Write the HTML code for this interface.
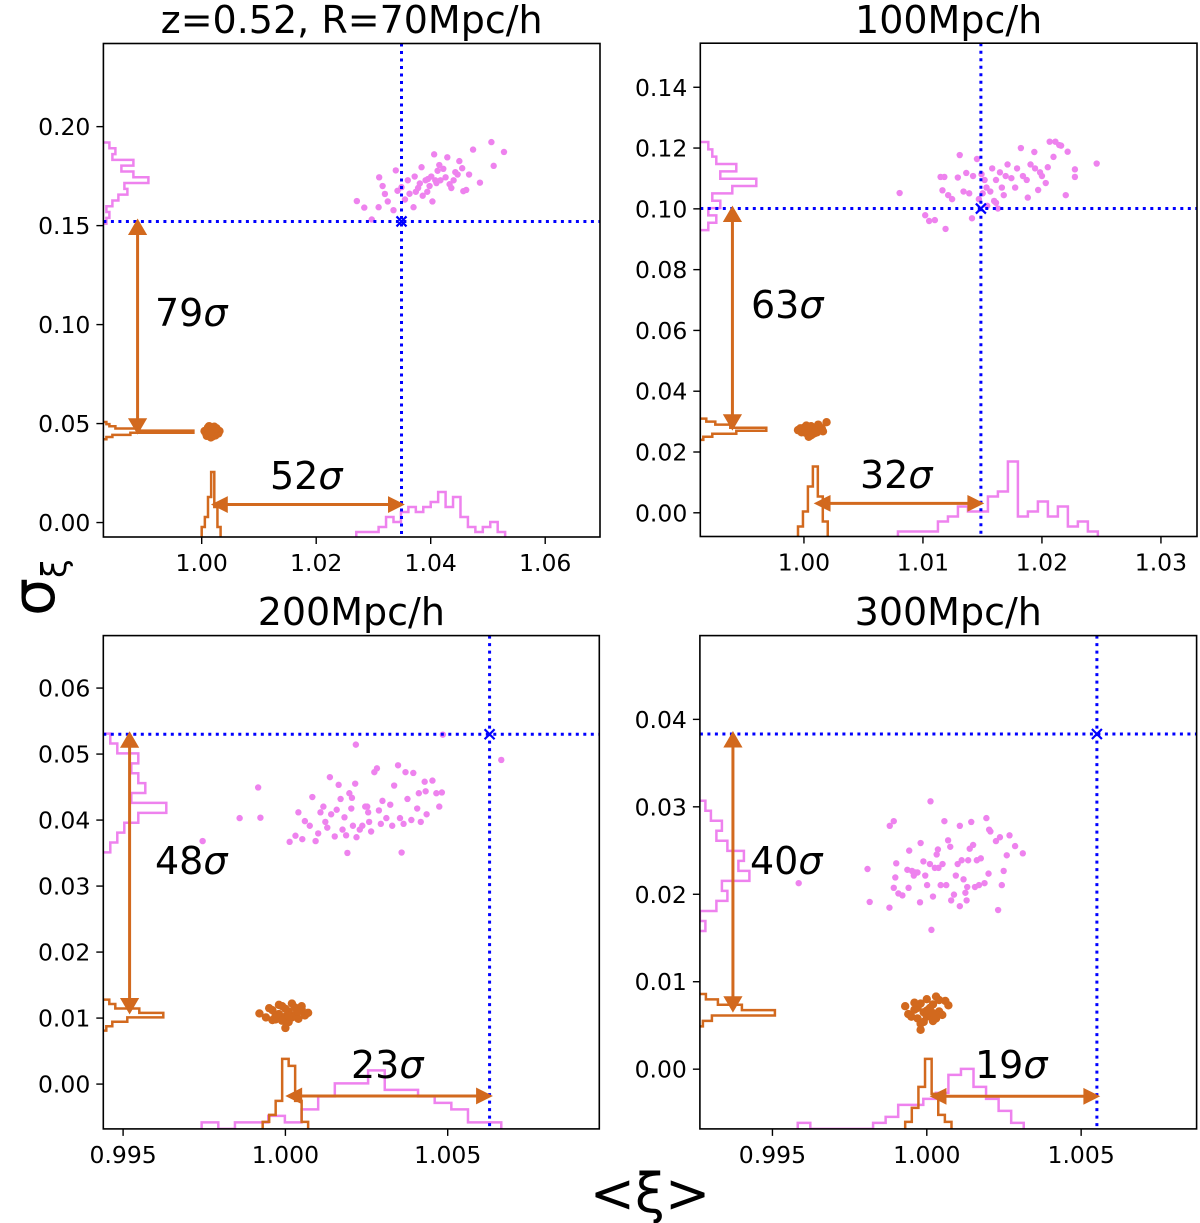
<!DOCTYPE html>
<html><head><meta charset="utf-8"><style>
html,body{margin:0;padding:0;background:#fff;}
svg{display:block;font-family:"DejaVu Sans","Liberation Sans",sans-serif;}
</style></head><body>
<svg id="fig" width="1200" height="1223" viewBox="0 0 1200 1223" xmlns="http://www.w3.org/2000/svg">
<text x="650" y="1212" font-size="54" text-anchor="middle">&lt;ξ&gt;</text>
<text transform="translate(54,616) rotate(-90)" font-size="60">σ<tspan font-size="34" dy="12">ξ</tspan></text>
</svg>
<script>
// ---------- data ----------
const p1PinkXi=[1.0271,1.0284,1.0297,1.0309,1.0310,1.0316,1.0325,1.0335,1.0339,1.0342,1.0349,1.0355,1.0360,1.0370,1.0372,1.0381,1.0384,1.0386,1.0394,1.0401,1.0403,1.0406,1.0412,1.0417,1.0422,1.0429,1.0433,1.0440,1.0447,1.0450,1.0457,1.0462,1.0467,1.0474,1.0486,1.0506,1.0510,1.0528,1.0391,1.0398,1.0426,1.0374,1.0363,1.0408,1.0415,1.0436,1.0320,1.0378,1.0395,1.0410,1.0443,1.0455];
const p1PinkSig=[0.1624,0.1591,0.1531,0.1593,0.1744,0.1700,0.1622,0.1578,0.1779,0.1676,0.1694,0.1632,0.1729,0.1593,0.1748,0.1713,0.1795,0.1651,0.1671,0.1748,0.1622,0.1860,0.1777,0.1729,0.1787,0.1845,0.1709,0.1729,0.1758,0.1826,0.1674,0.1680,0.1758,0.1884,0.1717,0.1922,0.1802,0.1872,0.1729,0.1700,0.1744,0.1671,0.1661,0.1729,0.1806,0.1690,0.1660,0.1690,0.1735,0.1715,0.1770,0.1790];
const p1OrXi=[1.0005,1.0008,1.0010,1.0012,1.0014,1.0015,1.0017,1.0018,1.0020,1.0021,1.0023,1.0025,1.0027,1.0029,1.0031,1.0016,1.0013,1.0009,1.0011,1.0019,1.0022,1.0024,1.0026,1.0018,1.0015];
const p1OrSig=[0.0462,0.0448,0.0470,0.0455,0.0440,0.0465,0.0478,0.0452,0.0460,0.0445,0.0472,0.0456,0.0466,0.0450,0.0462,0.0430,0.0487,0.0438,0.0480,0.0435,0.0484,0.0440,0.0476,0.0468,0.0452];
const p1PinkSigRange=[0.151,0.192];
const p1PinkSigCounts=[1,2,1,3,5,8,7,15,10,6,10,3,4,2];
const p1OrSigRange=[0.0421,0.0508];
const p1OrSigCounts=[1,3,9,30,12,4,2,1];
const p1PinkXiRange=[1.027,1.053];
const p1PinkXiCounts=[1,1,1,2,4,3,5,6,5,6,7,9,6,8,4,2,1,2,3,1];
const p1OrXiRange=[1.0000,1.0033];
const p1OrXiCounts=[2,4,8,13,6,2];
const p1Target=[1.0349,0.1521];
const p1Arrows=[0.9888,0.0459,0.0091,1.0022];

const p2PinkXi=[1.00804,1.01019,1.01052,1.01100,1.01148,1.01180,1.01190,1.01164,1.01212,1.01245,1.01293,1.01309,1.01341,1.01364,1.01389,1.01412,1.01421,1.01454,1.01470,1.01492,1.01502,1.01518,1.01534,1.01540,1.01566,1.01582,1.01598,1.01614,1.01630,1.01647,1.01663,1.01679,1.01695,1.01711,1.01743,1.01775,1.01791,1.01823,1.01840,1.01872,1.01881,1.01904,1.01936,1.01942,1.01968,1.01984,1.02000,1.02032,1.02049,1.02065,1.02097,1.02113,1.02145,1.02161,1.02200,1.02216,1.02277,1.02277,1.02460,1.01614];
const p2PinkSig=[0.1052,0.0979,0.0960,0.0963,0.1105,0.1105,0.0934,0.1061,0.1045,0.1032,0.1103,0.1177,0.1057,0.1118,0.1051,0.0969,0.1108,0.1164,0.1032,0.1114,0.1051,0.1095,0.1070,0.1010,0.1057,0.1133,0.1026,0.1095,0.1001,0.1120,0.1070,0.1045,0.1108,0.1146,0.1101,0.1070,0.1133,0.1200,0.1108,0.1095,0.1037,0.1146,0.1187,0.1133,0.1062,0.1120,0.1108,0.1085,0.1137,0.1221,0.1171,0.1221,0.1210,0.1208,0.1045,0.1188,0.1130,0.1105,0.1149,0.1020];
const p2OrXi=[0.9995,0.9998,1.0000,1.0002,1.0003,1.0005,1.0006,1.0007,1.0008,1.0010,1.0011,1.0012,1.0014,1.0016,1.0019,1.0004,0.9997,1.0001,1.0004,1.0009,1.0013,1.0006,1.0002,1.0010,1.0015];
const p2OrSig=[0.0272,0.0265,0.0280,0.0262,0.0275,0.0268,0.0285,0.0258,0.0272,0.0280,0.0265,0.0290,0.0275,0.0268,0.0298,0.0250,0.0278,0.0270,0.0282,0.0262,0.0283,0.0255,0.0287,0.0270,0.0278];
const p2PinkSigRange=[0.093,0.122];
const p2PinkSigCounts=[2,4,2,5,3,8,14,5,9,4,3,2];
const p2OrSigRange=[0.0240,0.0310];
const p2OrSigCounts=[1,4,12,22,10,5,2];
const p2PinkXiRange=[1.0079,1.0247];
const p2PinkXiCounts=[1,1,1,1,3,4,6,5,5,8,9,15,4,5,7,4,6,2,3,1];
const p2OrXiRange=[0.9995,1.0020];
const p2OrXiCounts=[2,5,10,14,8,3];
const p2Target=[1.01487,0.1001];
const p2Arrows=[0.99399,0.0280,0.0031,1.0011];

const p3PinkXi=[0.99745,0.99859,0.99916,0.99923,1.00013,1.00031,1.00040,1.00052,1.00060,1.00075,1.00083,1.00093,1.00101,1.00108,1.00117,1.00123,1.00129,1.00137,1.00141,1.00152,1.00158,1.00164,1.00170,1.00176,1.00182,1.00187,1.00191,1.00197,1.00203,1.00208,1.00215,1.00219,1.00229,1.00237,1.00246,1.00255,1.00258,1.00264,1.00274,1.00282,1.00288,1.00294,1.00299,1.00311,1.00323,1.00329,1.00335,1.00347,1.00353,1.00358,1.00364,1.00370,1.00376,1.00388,1.00394,1.00406,1.00411,1.00417,1.00429,1.00432,1.00435,1.00453,1.00465,1.00474,1.00482,1.00217,1.00485,1.00665,1.00252,1.00205];
const p3PinkSig=[0.03682,0.04030,0.04494,0.04036,0.03670,0.03763,0.04117,0.03711,0.03984,0.03914,0.04349,0.03682,0.03798,0.04117,0.04204,0.03972,0.03885,0.04650,0.04088,0.03752,0.04157,0.04534,0.04320,0.03856,0.04042,0.03769,0.03502,0.04407,0.04175,0.03914,0.04552,0.03740,0.03856,0.03914,0.04204,0.04117,0.03972,0.03827,0.04726,0.04784,0.04146,0.03943,0.04291,0.04030,0.04233,0.03914,0.04523,0.04830,0.04030,0.03508,0.03943,0.04726,0.04320,0.04001,0.04714,0.04175,0.04407,0.03972,0.04581,0.04436,0.04088,0.04598,0.04407,0.04204,0.04418,0.05143,0.05294,0.04911,0.04204,0.04337];
const p3OrXi=[0.9992,0.9994,0.9996,0.9997,0.9998,0.9999,1.0000,1.0001,1.0001,1.0002,1.0003,1.0004,1.0005,1.0006,1.0007,1.0000,0.9995,0.9997,0.9999,1.0000,1.0002,1.0003,1.0004,0.9998,1.0001,0.9996,1.0005];
const p3OrSig=[0.0107,0.0101,0.0112,0.0098,0.0106,0.0118,0.0102,0.0110,0.0094,0.0122,0.0105,0.0099,0.0113,0.0104,0.0108,0.0085,0.0115,0.0104,0.0096,0.0114,0.0101,0.0116,0.0110,0.0120,0.0103,0.0097,0.0118];
const p3PinkSigRange=[0.0351,0.0531];
const p3PinkSigCounts=[1,2,3,5,9,4,6,5,4,5,2,1];
const p3OrSigRange=[0.0081,0.0128];
const p3OrSigCounts=[1,3,8,20,12,4,2];
const p3PinkXiRange=[0.99742,1.00665];
const p3PinkXiCounts=[1,0,1,1,2,1,3,5,7,7,9,6,6,5,4,3,1,1];
const p3OrXiRange=[0.9993,1.0007];
const p3OrXiCounts=[1,2,4,10,9,4,1];
const p3Target=[1.00629,0.0530];
const p3Arrows=[0.99520,0.0110,-0.0018,1.0001];

const p4PinkXi=[0.99585,0.99808,0.99815,0.99879,0.99880,0.99893,0.99893,0.99898,0.99901,0.99908,0.99921,0.99937,0.99941,0.99943,0.99952,0.99958,0.99964,0.99970,0.99978,0.99980,0.99989,0.99995,1.00001,1.00010,1.00015,1.00020,1.00026,1.00032,1.00036,1.00038,1.00045,1.00051,1.00057,1.00063,1.00069,1.00076,1.00079,1.00088,1.00094,1.00100,1.00107,1.00113,1.00119,1.00125,1.00129,1.00134,1.00139,1.00144,1.00150,1.00156,1.00162,1.00169,1.00175,1.00187,1.00193,1.00200,1.00202,1.00206,1.00224,1.00231,1.00237,1.00243,1.00249,1.00259,1.00268,1.00286,1.00311,1.00012,1.00107,1.00131];
const p4PinkSig=[0.02127,0.02289,0.01912,0.01847,0.02783,0.02836,0.02074,0.02192,0.02354,0.02009,0.01987,0.02280,0.02074,0.02499,0.02267,0.02214,0.02249,0.02249,0.01908,0.02586,0.02376,0.02214,0.02105,0.02346,0.01593,0.01974,0.02302,0.02455,0.02512,0.02302,0.02105,0.02346,0.02836,0.02105,0.02617,0.02543,0.01930,0.01996,0.02214,0.02346,0.02783,0.02389,0.02171,0.02017,0.01930,0.02389,0.02521,0.02827,0.02564,0.02083,0.02389,0.02105,0.02411,0.02127,0.02871,0.02236,0.02739,0.02718,0.02608,0.01820,0.02652,0.02105,0.02267,0.02446,0.02674,0.02551,0.02468,0.03063,0.01864,0.02083];
const p4OrXi=[0.9993,0.9994,0.9996,0.9997,0.9998,0.9999,1.0000,1.0000,1.0001,1.0002,1.0003,1.0004,1.0005,1.0006,1.0007,0.9998,0.9995,0.9997,0.9999,1.0001,1.0002,1.0003,1.0004,0.9996,1.0000,1.0002,0.9998];
const p4OrSig=[0.0072,0.0063,0.0068,0.0058,0.0075,0.0065,0.0080,0.0060,0.0070,0.0055,0.0083,0.0066,0.0062,0.0078,0.0073,0.0045,0.0060,0.0070,0.0054,0.0062,0.0074,0.0058,0.0079,0.0076,0.0067,0.0064,0.0052];
const p4PinkSigRange=[0.0158,0.0307];
const p4PinkSigCounts=[1,0,3,5,4,9,7,8,5,3,4,2,1];
const p4OrSigRange=[0.0049,0.0086];
const p4OrSigCounts=[1,4,25,14,6,2];
const p4PinkXiRange=[0.99582,1.00314];
const p4PinkXiCounts=[1,0,0,0,0,0,1,2,4,4,5,6,9,10,7,5,3,1];
const p4OrXiRange=[0.9993,1.0008];
const p4OrXiCounts=[1,3,6,10,5,2,1];
const p4Target=[1.00551,0.03833];
const p4Arrows=[0.99372,0.0068,-0.0031,1.0002];

const p1XTicks=["1.00","1.02","1.04","1.06"], p1YTicks=["0.00","0.05","0.10","0.15","0.20"];
const p2XTicks=["1.00","1.01","1.02","1.03"], p2YTicks=["0.00","0.02","0.04","0.06","0.08","0.10","0.12","0.14"];
const p3XTicks=["0.995","1.000","1.005"], p3YTicks=["0.00","0.01","0.02","0.03","0.04","0.05","0.06"];
const p4XTicks=["0.995","1.000","1.005"], p4YTicks=["0.00","0.01","0.02","0.03","0.04"];
const titles=["z=0.52, R=70Mpc/h","100Mpc/h","200Mpc/h","300Mpc/h"];
const sigLabels=[["79σ","52σ"],["63σ","32σ"],["48σ","23σ"],["40σ","19σ"]];

// ---------- layout (styles) ----------
const layout=[
 {l:103.4,r:600,t:43.5,b:537,x0:0.98283,x1:1.06957,y0:-0.0073,y1:0.242,ty:33,l1:[155,326],l2:[270,489],sc:{ps:3,os:3,px:5,ox:5}},
 {l:700.3,r:1197,t:43.2,b:536.5,x0:0.99129,x1:1.03303,y0:-0.0078,y1:0.1545,ty:33,l1:[751,318],l2:[860,488],sc:{ps:4,os:3,px:5,ox:5}},
 {l:103.3,r:599.3,t:635.6,b:1128.9,x0:0.99439,x1:1.00967,y0:-0.00679,y1:0.06795,ty:625,l1:[155,874],l2:[351,1078],sc:{ps:7,os:3,px:6.5,ox:7}},
 {l:699.9,r:1196.6,t:635.6,b:1128.9,x0:0.99265,x1:1.00874,y0:-0.00683,y1:0.04958,ty:625,l1:[750,874],l2:[975,1078],sc:{ps:5.5,os:3,px:6,ox:7}}
];
const PINK="#ee82ee", OR="#d2691e", BLUE="#0000ff";
const NS="http://www.w3.org/2000/svg";
const svg=document.getElementById("fig");
function el(tag,parent){const e=document.createElementNS(NS,tag);parent.appendChild(e);return e;}

const dataSets=[
 {pxi:p1PinkXi,psg:p1PinkSig,oxi:p1OrXi,osg:p1OrSig,psr:p1PinkSigRange,psc:p1PinkSigCounts,osr:p1OrSigRange,osc:p1OrSigCounts,pxr:p1PinkXiRange,pxc:p1PinkXiCounts,oxr:p1OrXiRange,oxc:p1OrXiCounts,tg:p1Target,ar:p1Arrows,xt:p1XTicks,yt:p1YTicks},
 {pxi:p2PinkXi,psg:p2PinkSig,oxi:p2OrXi,osg:p2OrSig,psr:p2PinkSigRange,psc:p2PinkSigCounts,osr:p2OrSigRange,osc:p2OrSigCounts,pxr:p2PinkXiRange,pxc:p2PinkXiCounts,oxr:p2OrXiRange,oxc:p2OrXiCounts,tg:p2Target,ar:p2Arrows,xt:p2XTicks,yt:p2YTicks},
 {pxi:p3PinkXi,psg:p3PinkSig,oxi:p3OrXi,osg:p3OrSig,psr:p3PinkSigRange,psc:p3PinkSigCounts,osr:p3OrSigRange,osc:p3OrSigCounts,pxr:p3PinkXiRange,pxc:p3PinkXiCounts,oxr:p3OrXiRange,oxc:p3OrXiCounts,tg:p3Target,ar:p3Arrows,xt:p3XTicks,yt:p3YTicks},
 {pxi:p4PinkXi,psg:p4PinkSig,oxi:p4OrXi,osg:p4OrSig,psr:p4PinkSigRange,psc:p4PinkSigCounts,osr:p4OrSigRange,osc:p4OrSigCounts,pxr:p4PinkXiRange,pxc:p4PinkXiCounts,oxr:p4OrXiRange,oxc:p4OrXiCounts,tg:p4Target,ar:p4Arrows,xt:p4XTicks,yt:p4YTicks}
];

dataSets.forEach((d,i)=>{
 const L=layout[i];
 const X=v=>L.l+(v-L.x0)/(L.x1-L.x0)*(L.r-L.l);
 const Y=v=>L.b-(v-L.y0)/(L.y1-L.y0)*(L.b-L.t);
 const g=el("g",svg);
 
 
 const cp=el("clipPath",g); cp.setAttribute("id","clip"+i);
 const cr=el("rect",cp); cr.setAttribute("x",L.l);cr.setAttribute("y",L.t);cr.setAttribute("width",L.r-L.l);cr.setAttribute("height",L.b-L.t);
 const inner=el("g",g); inner.setAttribute("clip-path","url(#clip"+i+")");
 
 

 function vhist(range,counts,scale,color,name){
  const n=counts.length, w=(range[1]-range[0])/n; let p="M"+L.l+","+Y(range[0]);
  counts.forEach((c,k)=>{const xx=L.l+c*scale;p+=" L"+xx+","+Y(range[0]+k*w)+" L"+xx+","+Y(range[0]+(k+1)*w);});
  p+=" L"+L.l+","+Y(range[1]);
  const e=el("path",inner);e.setAttribute("d",p);e.setAttribute("fill","none");e.setAttribute("stroke",color);e.setAttribute("stroke-width","2.5");
  
  
 }
 function hhist(range,counts,scale,color,name){
  const n=counts.length, w=(range[1]-range[0])/n; let p="M"+X(range[0])+","+L.b;
  counts.forEach((c,k)=>{const yy=L.b-c*scale;p+=" L"+X(range[0]+k*w)+","+yy+" L"+X(range[0]+(k+1)*w)+","+yy;});
  p+=" L"+X(range[1])+","+L.b;
  const e=el("path",inner);e.setAttribute("d",p);e.setAttribute("fill","none");e.setAttribute("stroke",color);e.setAttribute("stroke-width","2.5");
  
  
 }
 vhist(d.psr,d.psc,L.sc.ps,PINK,"pink-sigma-histogram");
 hhist(d.pxr,d.pxc,L.sc.px,PINK,"pink-mean-histogram");
 vhist(d.osr,d.osc,L.sc.os,OR,"orange-sigma-histogram");
 hhist(d.oxr,d.oxc,L.sc.ox,OR,"orange-mean-histogram");

 d.pxi.forEach((v,k)=>{const c=el("circle",inner);c.setAttribute("cx",X(v));c.setAttribute("cy",Y(d.psg[k]));c.setAttribute("r","3.2");c.setAttribute("fill",PINK);
  
  });
 d.oxi.forEach((v,k)=>{const c=el("circle",inner);c.setAttribute("cx",X(v));c.setAttribute("cy",Y(d.osg[k]));c.setAttribute("r","4.2");c.setAttribute("fill",OR);
  
  });

 const tx=X(d.tg[0]), ty=Y(d.tg[1]);
 const vl=el("line",inner);vl.setAttribute("x1",tx);vl.setAttribute("x2",tx);vl.setAttribute("y1",L.t);vl.setAttribute("y2",L.b);
 vl.setAttribute("stroke",BLUE);vl.setAttribute("stroke-width","3");vl.setAttribute("stroke-dasharray","3 4.5");
 
 
 const hl=el("line",inner);hl.setAttribute("x1",L.l);hl.setAttribute("x2",L.r);hl.setAttribute("y1",ty);hl.setAttribute("y2",ty);
 hl.setAttribute("stroke",BLUE);hl.setAttribute("stroke-width","3");hl.setAttribute("stroke-dasharray","3 4.5");
 
 
 const mk=el("path",inner);mk.setAttribute("d",`M${tx-5},${ty-5}L${tx+5},${ty+5}M${tx-5},${ty+5}L${tx+5},${ty-5}`);
 mk.setAttribute("stroke",BLUE);mk.setAttribute("stroke-width","2.2");
 
 

 const ax=X(d.ar[0]), ay1=Y(d.ar[1]), ay2=ty;
 const hy=Y(d.ar[2]), hx1=X(d.ar[3]), hx2=tx;
 const va=el("path",inner);
 va.setAttribute("d",`M${ax},${ay1-10}L${ax},${ay2+10}M${ax-7},${ay2+12}L${ax},${ay2}L${ax+7},${ay2+12}ZM${ax-7},${ay1-12}L${ax},${ay1}L${ax+7},${ay1-12}Z`);
 va.setAttribute("stroke",OR);va.setAttribute("stroke-width","3");va.setAttribute("fill",OR);
 
 
 const ha=el("path",inner);
 ha.setAttribute("d",`M${hx1+10},${hy}L${hx2-10},${hy}M${hx2-12},${hy-6}L${hx2},${hy}L${hx2-12},${hy+6}ZM${hx1+12},${hy-6}L${hx1},${hy}L${hx1+12},${hy+6}Z`);
 ha.setAttribute("stroke",OR);ha.setAttribute("stroke-width","3");ha.setAttribute("fill",OR);
 
 

 [[L.l1,sigLabels[i][0],"sigma-significance-label"],[L.l2,sigLabels[i][1],"mean-significance-label"]].forEach(s=>{
  const t=el("text",g);t.setAttribute("x",s[0][0]);t.setAttribute("y",s[0][1]);t.setAttribute("font-size","38");
  t.textContent=s[1].slice(0,-1);
  const ts=el("tspan",t);ts.setAttribute("font-style","italic");ts.textContent="σ";
  
  
 });

 const fr=el("rect",g);fr.setAttribute("x",L.l);fr.setAttribute("y",L.t);fr.setAttribute("width",L.r-L.l);fr.setAttribute("height",L.b-L.t);
 fr.setAttribute("fill","none");fr.setAttribute("stroke","#000");fr.setAttribute("stroke-width","1.6");
 
 

 d.xt.forEach(lbl=>{const v=parseFloat(lbl),x=X(v);
  const tk=el("line",g);tk.setAttribute("x1",x);tk.setAttribute("x2",x);tk.setAttribute("y1",L.b);tk.setAttribute("y2",L.b+7);tk.setAttribute("stroke","#000");tk.setAttribute("stroke-width","1.4");
  
  
  const t=el("text",g);t.setAttribute("x",x);t.setAttribute("y",L.b+34);t.setAttribute("font-size","23.5");t.setAttribute("text-anchor","middle");t.textContent=lbl;
  
  });
 d.yt.forEach(lbl=>{const v=parseFloat(lbl),y=Y(v);
  const tk=el("line",g);tk.setAttribute("x1",L.l-7);tk.setAttribute("x2",L.l);tk.setAttribute("y1",y);tk.setAttribute("y2",y);tk.setAttribute("stroke","#000");tk.setAttribute("stroke-width","1.4");
  
  
  const t=el("text",g);t.setAttribute("x",L.l-13);t.setAttribute("y",y+8.5);t.setAttribute("font-size","23.5");t.setAttribute("text-anchor","end");t.textContent=lbl;
  
  });

 const tt=el("text",g);tt.setAttribute("x",(L.l+L.r)/2);tt.setAttribute("y",L.ty);tt.setAttribute("font-size","38");tt.setAttribute("text-anchor","middle");tt.textContent=titles[i];
 
 
});
</script>
</body></html>
